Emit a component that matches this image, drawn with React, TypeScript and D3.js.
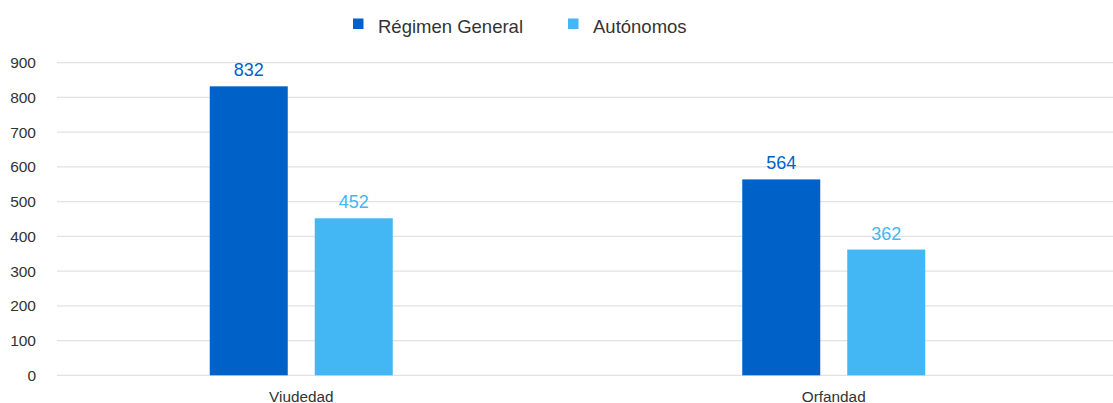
import React from "react";
import * as d3 from "d3";

const categories = ["Viudedad", "Orfandad"];
const seriesNames = ["Régimen General", "Autónomos"];
const regimenGeneral = [832, 564];
const autonomos = [452, 362];
const yTicks = [0, 100, 200, 300, 400, 500, 600, 700, 800, 900];

const colors = ["#0062C8", "#42B7F3"];
const W = 1113;
const H = 403;
const font = "'Liberation Sans', Arial, Helvetica, sans-serif";

export default function App() {
  const series = [regimenGeneral, autonomos];
  const x0 = d3.scaleBand<string>().domain(categories).range([35, 1100]);
  const x1 = d3
    .scaleBand<string>()
    .domain(seriesNames)
    .range([-91.5, 91.5])
    .paddingInner(0.2571)
    .paddingOuter(0);
  const y = d3.scaleLinear().domain([0, 900]).range([375.3, 62.7]);

  const legendX = [353, 568];

  return (
    <svg
      width={W}
      height={H}
      style={{ position: "absolute", left: 0, top: 0, background: "#fff" }}
      fontFamily={font}
    >
      {yTicks.map((t) => (
        <g key={t}>
          <line x1={57} x2={W} y1={y(t)} y2={y(t)} stroke="#e2e2e2" strokeWidth={1.2} />
          <text x={36} y={y(t) + 5.5} textAnchor="end" fontSize={15.5} fill="#333">
            {t}
          </text>
        </g>
      ))}
      {categories.map((c, i) => {
        const cx = (x0(c) as number) + x0.bandwidth() / 2;
        return (
          <g key={c}>
            {seriesNames.map((s, j) => {
              const v = series[j][i];
              const bx = cx + (x1(s) as number);
              return (
                <g key={s}>
                  <rect
                    x={bx}
                    y={y(v)}
                    width={x1.bandwidth()}
                    height={y(0) - y(v)}
                    fill={colors[j]}
                  />
                  <text
                    x={bx + x1.bandwidth() / 2}
                    y={y(v) - 10}
                    textAnchor="middle"
                    fontSize={18}
                    fill={colors[j]}
                  >
                    {v}
                  </text>
                </g>
              );
            })}
            <text x={cx} y={401.5} textAnchor="middle" fontSize={15.3} fill="#333">
              {c}
            </text>
          </g>
        );
      })}
      {seriesNames.map((s, j) => (
        <g key={s}>
          <rect x={legendX[j]} y={18.5} width={10.5} height={10.5} fill={colors[j]} />
          <text x={legendX[j] + 25} y={33} fontSize={18.5} fill="#333">
            {s}
          </text>
        </g>
      ))}
    </svg>
  );
}
